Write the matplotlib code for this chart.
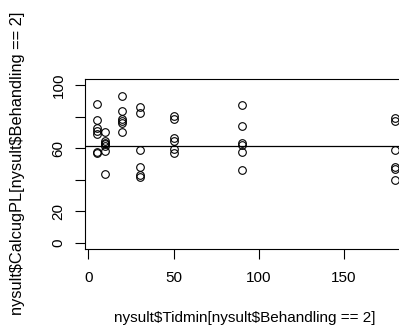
import numpy as np
import matplotlib
matplotlib.use('Agg')
import matplotlib.pyplot as plt

plt.rcParams['font.family'] = ['Liberation Sans', 'DejaVu Sans']

# Tidmin values and CalcugPL values (Behandling == 2)
tidmin = [5, 5, 5, 5, 5, 5, 5,
          10, 10, 10, 10, 10, 10, 10,
          20, 20, 20, 20, 20, 20,
          30, 30, 30, 30, 30, 30,
          50, 50, 50, 50, 50, 50,
          90, 90, 90, 90, 90, 90,
          180, 180, 180, 180, 180, 180]
calcug = [88.1, 78.2, 72.9, 70.8, 69.3, 57.9, 56.8,
          70.6, 64.4, 63.6, 62.5, 61.4, 58.3, 43.9,
          93.5, 83.7, 78.6, 77.3, 76.3, 70.6,
          86.5, 82.2, 59.1, 47.9, 43.0, 41.7,
          80.5, 78.6, 66.3, 64.6, 59.8, 57.0,
          87.7, 74.4, 63.3, 62.1, 57.6, 46.4,
          79.0, 77.6, 59.1, 48.1, 46.8, 39.6]
mean_level = 61.7

xticks = [0, 50, 100, 150]
yticks = [0, 20, 40, 60, 80, 100]
ytick_labels = ['0', '20', '', '60', '', '100']

W, H = 399, 331
fig = plt.figure(figsize=(W / 100, H / 100), dpi=100)
ax = fig.add_axes([85 / W, 1 - 249 / H, (407 - 85) / W, (249 - 79) / H])

ax.plot(tidmin, calcug, 'o', mfc='none', mec='black', ms=5.5, mew=0.8)
ax.axhline(mean_level, color='black', lw=0.9)

ax.set_xlim(-2, 187)
ax.set_ylim(-4, 104)
ax.set_xticks(xticks)
ax.set_yticks(yticks)
ax.set_yticklabels(ytick_labels, rotation=90, va='center')
ax.tick_params(direction='out', length=7, width=0.8, labelsize=11, pad=9)
ax.tick_params(axis='y', pad=7)
for s in ax.spines.values():
    s.set_linewidth(0.8)

fig.text(245 / W, 1 - 318 / H, 'nysult$Tidmin[nysult$Behandling == 2]',
         ha='center', va='center', fontsize=11, parse_math=False)
fig.text(18 / W, 1 - 163 / H, 'nysult$CalcugPL[nysult$Behandling == 2]',
         ha='center', va='center', rotation=90, fontsize=11.8, parse_math=False)

fig.savefig('out.png', dpi=100)
